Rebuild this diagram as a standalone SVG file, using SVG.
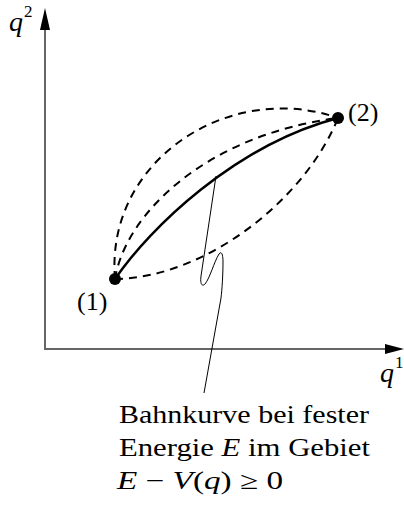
<svg xmlns="http://www.w3.org/2000/svg" width="404" height="505" viewBox="0 0 404 505">
<defs>
<style>
.axis{stroke:#666;stroke-width:2;fill:none}
.head{fill:#000;stroke:none}
.solid{stroke:#000;stroke-width:2.4;fill:none;stroke-linecap:round}
.dash{stroke:#000;stroke-width:2;fill:none;stroke-dasharray:8 6}
.leader{stroke:#000;stroke-width:1;fill:none}
.dot{fill:#000}
</style>
</defs>
<rect width="404" height="505" fill="#fff"/>
<g id="axes">
<line class="axis" x1="45" y1="350" x2="45" y2="26"/>
<line class="axis" x1="44" y1="349" x2="388" y2="349"/>
<polygon class="head" points="45,8 40,30 50,30"/>
<polygon class="head" points="404,349 385,344 385,354"/>
</g>
<g id="axis-labels" font-family="'Liberation Serif', serif" fill="#000">
<text x="9" y="31" font-size="28" font-style="italic">q</text>
<text x="24" y="17" font-size="17">2</text>
<text x="380" y="382" font-size="28" font-style="italic">q</text>
<text x="395" y="368" font-size="17">1</text>
</g>
<g id="connectors">
<path class="dash" d="M115,279 C105,160 230,80 338,118"/>
<path class="dash" d="M115,279 C125,215 205,135 338,118"/>
<path class="dash" d="M115,279 C205,278 305,200 338,118"/>
<path class="solid" d="M115,279 C150,228 235,145 338,118"/>
<path class="leader" d="M216,176 L201,276 C200,284 202,287 205,284 C210,278 214,262 219,254 C221,251 223,253 223,262 C223,275 222,290 221,298 L204,393"/>
</g>
<g id="node1" font-family="'Liberation Serif', serif" fill="#000">
<circle class="dot" cx="115" cy="279" r="6"/>
<text x="77" y="310" font-size="26">(1)</text>
</g>
<g id="node2" font-family="'Liberation Serif', serif" fill="#000">
<circle class="dot" cx="338" cy="118" r="6"/>
<text x="348" y="121" font-size="26">(2)</text>
</g>
<g id="label" font-family="'Liberation Serif', serif" fill="#000" font-size="25">
<text x="119" y="423" textLength="250" lengthAdjust="spacingAndGlyphs">Bahnkurve bei fester</text>
<text x="119" y="456" textLength="251" lengthAdjust="spacingAndGlyphs">Energie <tspan font-style="italic">E</tspan> im Gebiet</text>
<text x="117" y="489" textLength="166" lengthAdjust="spacingAndGlyphs"><tspan font-style="italic">E</tspan> − <tspan font-style="italic">V</tspan>(<tspan font-style="italic">q</tspan>) ≥ 0</text>
</g>
</svg>
